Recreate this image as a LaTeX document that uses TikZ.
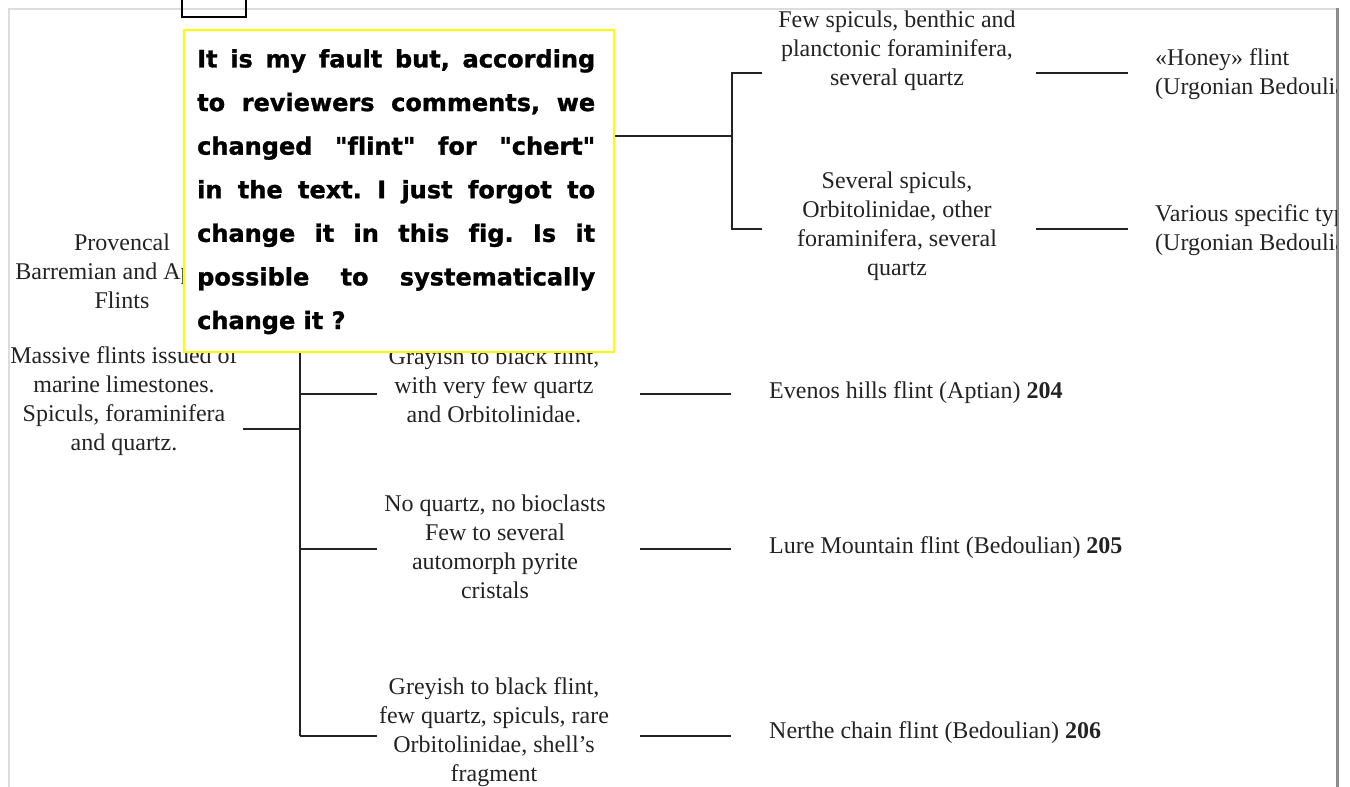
\documentclass[tikz,border=0pt]{standalone}
\usepackage{fontspec}
\setmainfont{Liberation Serif}
\newfontfamily\callfont{DejaVu Sans}[Ligatures=NoCommon, BoldFeatures={FakeBold=1.2}]
\definecolor{ink}{RGB}{35,35,35}
\definecolor{framegray}{RGB}{220,220,220}
\definecolor{edgegray}{RGB}{140,140,140}
\definecolor{noteyellow}{RGB}{255,255,0}
\frenchspacing
\begin{document}
\begin{tikzpicture}[x=1pt,y=-1pt,
  lbl/.style={font=\fontsize{24}{29}\selectfont, text=ink, align=center, inner sep=0pt},
  lblL/.style={lbl, align=left, anchor=west},
  wire/.style={draw=ink, line width=1.6pt},
  note/.style={draw=noteyellow, fill=white, line width=2pt},
  notefont/.style={font=\callfont\bfseries\fontsize{24}{43.6}\selectfont, text=black, align=left, inner sep=0pt}
]
\useasboundingbox (0,0) rectangle (1350,787);
% page frame
\coordinate (fbl) at (9,787);
\coordinate (ftl) at (9,9);
\coordinate (ftr) at (1337,9);
\coordinate (fr1) at (1337.5,8);
\coordinate (fr2) at (1337.5,787);
\draw[framegray, line width=2pt] (fbl) -- (ftl) -- (ftr);
\draw[edgegray, line width=3pt] (fr1) -- (fr2);
% small box at top
\coordinate (sb1) at (182,0);
\coordinate (sb2) at (182,17);
\coordinate (sb3) at (246,17);
\coordinate (sb4) at (246,0);
\draw[black, line width=1.5pt] (sb1) -- (sb2) -- (sb3) -- (sb4);

\begin{scope}
\clip (0,0) rectangle (1336,787);
% labels
\node[lbl] (prov) at (122,271) {Provencal\\Barremian and Aptian\\Flints};
\node[lbl] (massive) at (124,401) {Massive flints issued of\\marine limestones.\\Spiculs, foraminifera\\and quartz.};
\node[lbl] (grayish) at (494,385) {Grayish to black flint,\\with very few quartz\\and Orbitolinidae.};
\node[lbl] (noquartz) at (495,547) {No quartz, no bioclasts\\Few to several\\automorph pyrite\\cristals};
\node[lbl] (greyish) at (494,732) {Greyish to black flint,\\few quartz, spiculs, rare\\Orbitolinidae, shell’s\\fragment};
\node[lbl] (fewsp) at (897,51) {Few spiculs, benthic and\\planctonic foraminifera,\\several quartz};
\node[lbl] (sevsp) at (897,226) {Several spiculs,\\Orbitolinidae, other\\foraminifera, several\\quartz};
\node[lblL] (honey) at (1155,74) {«Honey» flint\\(Urgonian Bedoulian)};
\node[lblL] (various) at (1155,230) {Various specific types\\(Urgonian Bedoulian)};
\node[lblL] (evenos) at (769,393) {Evenos hills flint (Aptian) \textbf{204}};
\node[lblL] (lure) at (769,548) {Lure Mountain flint (Bedoulian) \textbf{205}};
\node[lblL] (nerthe) at (769,733) {Nerthe chain flint (Bedoulian) \textbf{206}};
\end{scope}

% connector coordinates
\coordinate (mL) at (243,429);
\coordinate (mJ) at (300,429);
\coordinate (vT) at (300,136);
\coordinate (vB) at (300,736);
\coordinate (b1) at (300,394);
\coordinate (b2) at (300,549);
\coordinate (b1e) at (377,394);
\coordinate (b2e) at (377,549);
\coordinate (b3e) at (377,736);
\coordinate (r1s) at (640,394);
\coordinate (r1e) at (731,394);
\coordinate (r2s) at (640,549);
\coordinate (r2e) at (731,549);
\coordinate (r3s) at (640,736);
\coordinate (r3e) at (731,736);
\coordinate (tJ) at (732,136);
\coordinate (tU) at (732,73);
\coordinate (tD) at (732,229);
\coordinate (tUe) at (762,73);
\coordinate (tDe) at (762,229);
\coordinate (h1s) at (1036,73);
\coordinate (h1e) at (1128,73);
\coordinate (h2s) at (1036,229);
\coordinate (h2e) at (1128,229);

\draw[wire] (mL) -- (mJ);
\draw[wire] (vT) -- (vB);
\draw[wire] (b1) -- (b1e);
\draw[wire] (b2) -- (b2e);
\draw[wire] (vB) -- (b3e);
\draw[wire] (r1s) -- (r1e);
\draw[wire] (r2s) -- (r2e);
\draw[wire] (r3s) -- (r3e);
\draw[wire] (vT) -- (tJ);
\draw[wire] (tUe) -- (tU) -- (tD) -- (tDe);
\draw[wire] (h1s) -- (h1e);
\draw[wire] (h2s) -- (h2e);

% reviewer note on top
\node[note, anchor=north west, minimum width=430pt, minimum height=322pt, inner sep=0pt] (notebox) at (183,29) {};
\node[notefont, anchor=north west] (notetext) at (197,49) {%
\makebox[398pt][s]{It is my fault but, according}\\
\makebox[398pt][s]{to reviewers comments, we}\\
\makebox[398pt][s]{changed "flint" for "chert"}\\
\makebox[398pt][s]{in the text. I just forgot to}\\
\makebox[398pt][s]{change it in this fig. Is it}\\
\makebox[398pt][s]{possible to systematically}\\
change it ?};
\end{tikzpicture}
\end{document}
